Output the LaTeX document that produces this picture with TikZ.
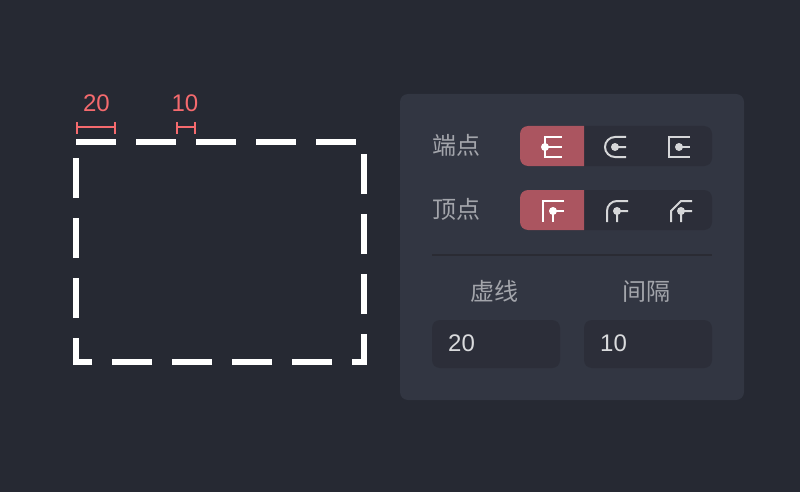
\documentclass[tikz,border=0pt]{standalone}
\usepackage{fontspec}
\setmainfont{Noto Sans CJK SC}
\newfontfamily\digitfont{Liberation Sans}
\definecolor{bgc}{HTML}{262933}
\definecolor{panelc}{HTML}{323642}
\definecolor{wellc}{HTML}{2C2E39}
\definecolor{activec}{HTML}{AB5560}
\definecolor{dimc}{HTML}{F56A6E}
\definecolor{labelc}{HTML}{A3A5AB}
\definecolor{valuec}{HTML}{DADBDD}
\definecolor{iconc}{HTML}{D6D7D9}
\definecolor{rulec}{HTML}{2A2B33}
\tikzset{
  dimline/.style={draw=dimc,line width=2pt},
  dimlabel/.style={text=dimc,font=\digitfont\fontsize{24}{24}\selectfont,inner sep=0pt,anchor=center},
  fieldlabel/.style={text=labelc,font=\fontsize{24}{24}\selectfont,inner sep=0pt},
  valuelabel/.style={text=valuec,font=\digitfont\fontsize{24}{24}\selectfont,inner sep=0pt,anchor=west},
  iconline/.style={line width=2pt,line cap=butt,miter limit=10},
}
\begin{document}
\begin{tikzpicture}[x=1pt,y=-1pt]
\useasboundingbox (0,0) rectangle (800,492);
\fill[bgc] (0,0) rectangle (800,492);
% dashed rectangle
\draw[white,line width=6pt,dash pattern=on 40pt off 20pt,miter limit=10]
  (76,142) -- (364,142) -- (364,362) -- (76,362) -- cycle;
% dimensions
\draw[dimline] (77,122) -- (77,134) (77,127.5) -- (115,127.5) (115,122) -- (115,134);
\draw[dimline] (177,122) -- (177,134) (177,127.5) -- (195,127.5) (195,122) -- (195,134);
\node[dimlabel] (d20) at (96.5,103.5) {20};
\node[dimlabel] (d10) at (185,103.5) {10};
% panel
\fill[panelc,rounded corners=8pt] (400,94) rectangle (744,400);
\node[fieldlabel,anchor=west] (capl) at (432,145) {端点};
\node[fieldlabel,anchor=west] (joinl) at (432,209.5) {顶点};
% button groups
\fill[wellc,rounded corners=8pt] (520,126) rectangle (712,166);
\fill[wellc,rounded corners=8pt] (520,190) rectangle (712,230);
\begin{scope}
  \clip (520,126) rectangle (584,166);
  \fill[activec,rounded corners=8pt] (520,126) rectangle (610,166);
\end{scope}
\begin{scope}
  \clip (520,190) rectangle (584,230);
  \fill[activec,rounded corners=8pt] (520,190) rectangle (610,230);
\end{scope}
% cap icons
\draw[white,iconline] (562,137) -- (545,137) -- (545,157) -- (562,157) (545,147) -- (562,147);
\fill[white] (545,147) circle (4);
\draw[iconc,iconline] (626,137) -- (615,137) arc[start angle=-90,end angle=-270,radius=10] -- (626,157) (615,147) -- (626,147);
\fill[iconc] (615,147) circle (4);
\draw[iconc,iconline] (690,137) -- (669,137) -- (669,157) -- (690,157) (679,147) -- (690,147);
\fill[iconc] (679,147) circle (4);
% join icons
\draw[white,iconline] (564,201) -- (543,201) -- (543,222) (553,222) -- (553,211) -- (564,211);
\fill[white] (553,211) circle (4);
\draw[iconc,iconline] (628,201) -- (617,201) arc[start angle=-90,end angle=-180,radius=10] -- (607,222) (617,222) -- (617,211) -- (628,211);
\fill[iconc] (617,211) circle (4);
\draw[iconc,iconline] (692,201) -- (681,201) -- (671,211) -- (671,222) (681,222) -- (681,211) -- (692,211);
\fill[iconc] (681,211) circle (4);
% divider
\fill[rulec] (432,254) rectangle (712,256);
% inputs
\node[fieldlabel,anchor=base] (dashl) at (494,300.5) {虚线};
\node[fieldlabel,anchor=base] (gapl) at (646,300.5) {间隔};
\fill[wellc,rounded corners=8pt] (432,320) rectangle (560,368);
\fill[wellc,rounded corners=8pt] (584,320) rectangle (712,368);
\node[valuelabel] (v20) at (448,343.5) {20};
\node[valuelabel] (v10) at (600,343.5) {10};
\end{tikzpicture}
\end{document}
